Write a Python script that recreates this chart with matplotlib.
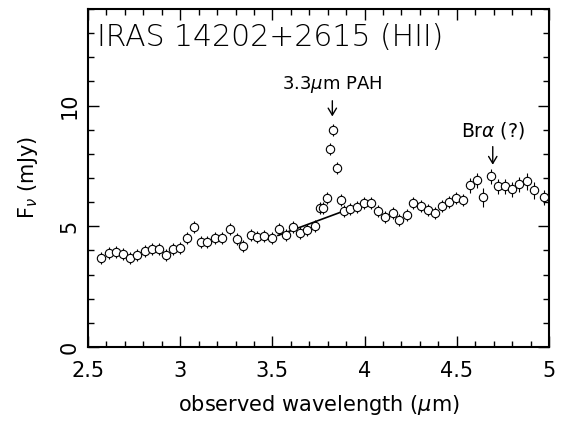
import matplotlib
matplotlib.use('Agg')
import matplotlib.pyplot as plt
from matplotlib.ticker import MultipleLocator

# --- data (wavelength in um, flux in mJy) ---
wave = [2.570, 2.614, 2.652, 2.690, 2.728, 2.766, 2.809, 2.847, 2.885, 2.923,
        2.961, 2.999, 3.037, 3.075, 3.113, 3.145, 3.189, 3.227, 3.270, 3.308,
        3.341, 3.384, 3.416, 3.454, 3.498, 3.536, 3.574, 3.612, 3.650, 3.688,
        3.731, 3.758, 3.774, 3.796, 3.812, 3.829, 3.850, 3.872, 3.888, 3.921,
        3.959, 3.997, 4.035, 4.073, 4.111, 4.154, 4.187, 4.230, 4.262, 4.306,
        4.344, 4.382, 4.420, 4.458, 4.496, 4.534, 4.572, 4.610, 4.642, 4.685,
        4.723, 4.761, 4.799, 4.837, 4.881, 4.919, 4.973]
flux = [3.68, 3.88, 3.93, 3.84, 3.68, 3.80, 3.97, 4.05, 4.05, 3.80,
        4.05, 4.09, 4.50, 4.96, 4.34, 4.34, 4.50, 4.50, 4.88, 4.46,
        4.17, 4.63, 4.55, 4.59, 4.50, 4.88, 4.63, 4.96, 4.71, 4.83,
        5.00, 5.74, 5.74, 6.16, 8.22, 8.97, 7.40, 6.07, 5.62, 5.70,
        5.79, 5.95, 5.95, 5.62, 5.37, 5.54, 5.25, 5.45, 5.95, 5.83,
        5.66, 5.54, 5.83, 5.99, 6.16, 6.07, 6.69, 6.90, 6.20, 7.07,
        6.65, 6.65, 6.53, 6.74, 6.86, 6.49, 6.20]
ferr = [0.25] * 56 + [0.3, 0.3, 0.4, 0.3, 0.3, 0.3, 0.3, 0.3, 0.35, 0.35, 0.3]

# continuum fit under the PAH feature
cont_wave = [3.53, 4.0]
cont_flux = [4.62, 5.95]

plt.rcParams['font.family'] = 'DejaVu Sans'

fig = plt.figure(figsize=(5.61, 4.21), dpi=100)
ax = fig.add_axes([0.1569, 0.1758, 0.8217, 0.8028])

ax.errorbar(wave, flux, yerr=ferr, fmt='o', mfc='white', mec='black',
            ms=6, mew=0.8, ecolor='black', elinewidth=0.8, capsize=0, zorder=3)
ax.plot(cont_wave, cont_flux, 'k-', linewidth=1.2, zorder=2)

ax.set_xlim(2.5, 5.0)
ax.set_ylim(0, 14)

ax.xaxis.set_minor_locator(MultipleLocator(0.1))
ax.yaxis.set_minor_locator(MultipleLocator(1))
ax.set_xticks([2.5, 3, 3.5, 4, 4.5, 5])
ax.set_xticklabels(['2.5', '3', '3.5', '4', '4.5', '5'])
ax.set_yticks([0, 5, 10])
ax.set_yticklabels(['0', '5', '10'], rotation=90, va='center')

ax.tick_params(which='both', direction='in', top=True, right=True,
               labelsize=15, width=1.0)
ax.tick_params(which='major', length=8)
ax.tick_params(axis='x', which='major', pad=10)
ax.tick_params(axis='y', which='major', pad=6)
ax.tick_params(which='minor', length=4)
for s in ax.spines.values():
    s.set_linewidth(1.5)

ax.set_xlabel(r'observed wavelength ($\mu$m)', fontsize=15, labelpad=9)
ax.set_ylabel(r'F$_\nu$ (mJy)', fontsize=15, labelpad=14)

ax.text(0.02, 0.96, 'IRAS 14202+2615 (HII)', transform=ax.transAxes,
        fontsize=21.5, fontweight='light', ha='left', va='top')

# line annotations
arrow = dict(arrowstyle='->,head_length=0.5,head_width=0.3', color='black',
             lw=1.0, shrinkA=0, shrinkB=0)
ax.annotate('', xy=(3.825, 9.55), xytext=(3.825, 10.2), arrowprops=arrow)
ax.text(3.825, 10.7, r'3.3$\mu$m PAH', fontsize=13, ha='center', va='baseline')
ax.annotate('', xy=(4.695, 7.55), xytext=(4.695, 8.3), arrowprops=arrow)
ax.text(4.695, 8.72, r'Br$\alpha$ (?)', fontsize=13.5, ha='center', va='baseline')

fig.savefig('out.png', dpi=100)
